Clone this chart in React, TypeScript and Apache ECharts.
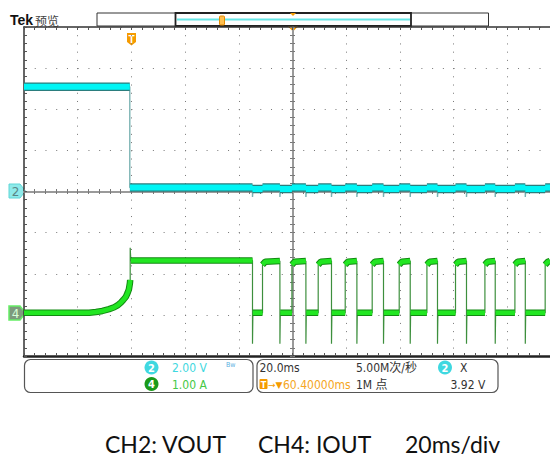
import React, { useEffect, useRef } from "react";
import * as echarts from "echarts";

// ---- Data (time in ms, 0 = screen centre) ----
// visible window: left edge of the graticule to the cropped right edge
const timeRangeMs = [-100, 95.9];
const ch2RangeV = [-8, 8];
const ch4RangeA = [-1, 7];

const ch2PreDropV = 5.1;
const ch2DropMs = -60.6;
const ch2OnV = 0.19;
const ch2OffV = 0.12;
const ch2EdgeSpikeV = -0.27;

const ch4RampMs = [-100, -75.7, -73.2, -70.8, -68.3, -66.4, -65.2, -63.9, -63.05, -62.05, -61.45, -60.93, -60.56, -60.45];
const ch4RampA = [0.05, 0.05, 0.07, 0.095, 0.14, 0.185, 0.23, 0.3, 0.36, 0.44, 0.53, 0.62, 0.77, 0.85];
const ch4SpikeA = 1.63;
const ch4HighStartMs = -60.2;
const ch4HighA = 1.32;
const ch4PulseHighA = [1.22, 1.29, 1.31];
const ch4LowA = 0.05;
const ch4FallSpikeA = -0.7;
const ch4FallMs = [-14.9, -4.69, 4.99, 14.52, 23.98, 33.89, 43.84, 54.0, 64.8, 75.5, 86.7];
const ch4RiseMs = [-11.17, -0.22, 9.57, 19.63, 29.68, 39.74, 50.06, 60.71, 71.66, 82.83, 94.1];

function buildCh2() {
  const thin: any[] = [];
  const band: any[] = [];
  thin.push([timeRangeMs[0], ch2PreDropV], [ch2DropMs, ch2PreDropV], [ch2DropMs, ch2OnV]);
  band.push([timeRangeMs[0], ch2PreDropV], [ch2DropMs, ch2PreDropV], [ch2DropMs, "-"], [ch2DropMs + 0.05, ch2OnV]);
  for (let i = 0; i < ch4FallMs.length; i++) {
    const tf = ch4FallMs[i];
    const tr = ch4RiseMs[i];
    thin.push([tf, ch2OnV], [tf, ch2EdgeSpikeV], [tf + 0.15, ch2OffV], [tr, ch2OffV], [tr, ch2OnV]);
    band.push([tf, ch2OnV], [tf, "-"], [tf, ch2OffV], [tr, ch2OffV], [tr, "-"], [tr, ch2OnV]);
  }
  thin.push([timeRangeMs[1], ch2OnV]);
  band.push([timeRangeMs[1], ch2OnV]);
  return { thin, band };
}

function buildCh4() {
  const thin: any[] = [];
  const band: any[] = [];
  for (let i = 0; i < ch4RampMs.length; i++) {
    thin.push([ch4RampMs[i], ch4RampA[i]]);
    band.push([ch4RampMs[i], ch4RampA[i]]);
  }
  const rampEnd = ch4RampMs[ch4RampMs.length - 1];
  thin.push([rampEnd, ch4SpikeA], [ch4HighStartMs, ch4HighA]);
  band.push([rampEnd, "-"], [ch4HighStartMs, ch4HighA]);
  let highEnd = ch4HighA;
  for (let i = 0; i < ch4FallMs.length; i++) {
    const tf = ch4FallMs[i];
    const tr = ch4RiseMs[i];
    thin.push([tf, highEnd], [tf, ch4FallSpikeA], [tf + 0.15, ch4LowA], [tr, ch4LowA], [tr, ch4PulseHighA[0]], [tr + 1, ch4PulseHighA[1]]);
    band.push([tf, highEnd], [tf, "-"], [tf + 0.15, ch4LowA], [tr, ch4LowA], [tr, "-"], [tr, ch4PulseHighA[0]], [tr + 1, ch4PulseHighA[1]]);
    highEnd = ch4PulseHighA[2];
  }
  thin.push([timeRangeMs[1], highEnd]);
  band.push([timeRangeMs[1], highEnd]);
  return { thin, band };
}

const NARROW = "'Liberation Sans Narrow', 'DejaVu Sans Condensed', 'Roboto', sans-serif";

function timeAxis(gridIndex: number, position: string, opts: any) {
  return {
    type: "value",
    gridIndex,
    position,
    min: timeRangeMs[0],
    max: timeRangeMs[1],
    interval: 20,
    axisLabel: { show: false },
    axisLine: { show: true, onZero: false, lineStyle: opts.line },
    axisTick: { show: true, inside: true, length: opts.tickLen ?? 3, lineStyle: { color: opts.tickColor ?? "#555", width: 1 } },
    minorTick: { show: true, splitNumber: 5, length: opts.tickLen ?? 3, lineStyle: { color: opts.tickColor ?? "#555", width: 1 } },
    splitLine: opts.split
      ? { show: true, showMaxLine: false, lineStyle: { color: "#777", width: 1, type: [1, 7.22] } }
      : { show: false },
  };
}

function voltAxis(gridIndex: number, position: string, opts: any) {
  return {
    type: "value",
    gridIndex,
    position,
    min: ch2RangeV[0],
    max: ch2RangeV[1],
    interval: 2,
    axisLabel: { show: false },
    axisLine: { show: true, onZero: false, lineStyle: opts.line },
    axisTick: { show: true, inside: true, length: opts.tickLen ?? 3, lineStyle: { color: opts.tickColor ?? "#555", width: 1 } },
    minorTick: { show: true, splitNumber: 5, length: opts.tickLen ?? 3, lineStyle: { color: opts.tickColor ?? "#555", width: 1 } },
    splitLine: opts.split
      ? { show: true, lineStyle: { color: "#777", width: 1, type: [1, 9.74] } }
      : { show: false },
  };
}

const hidden = (gridIndex: number) => ({ type: "value", gridIndex, show: false, min: 0, max: 1 });

export default function App() {
  const ref = useRef<HTMLDivElement>(null);
  useEffect(() => {
    if (!ref.current) return;
    const chart = echarts.init(ref.current, null, { renderer: "svg" });
    const ch2 = buildCh2();
    const ch4 = buildCh4();
    const L = 24, T = 27, W = 526, H = 329;
    const CX = 292.5; // graticule centre (t = 0)
    const centerLine = { color: "#9a9a9a", width: 2 };
    chart.setOption({
      animation: false,
      backgroundColor: "#ffffff",
      grid: [
        { left: L, top: T, width: W, height: H },
        { left: L, top: T, width: W, height: H / 2 },
        { left: L, top: T + H / 2, width: W, height: H / 2 },
        { left: L, top: T, width: CX - L, height: H },
        { left: CX, top: T, width: L + W - CX, height: H },
      ],
      xAxis: [
        timeAxis(0, "bottom", { line: { color: "#222", width: 2.5 }, split: true }),
        timeAxis(0, "top", { line: { color: "#333", width: 1.5 } }),
        timeAxis(1, "bottom", { line: centerLine, tickColor: "#777", tickLen: 2.5 }),
        timeAxis(2, "top", { line: centerLine, tickColor: "#777", tickLen: 2.5 }),
        hidden(3),
        hidden(4),
      ],
      yAxis: [
        voltAxis(0, "left", { line: { color: "#333", width: 1.5 }, split: true }),
        { type: "value", gridIndex: 0, show: false, min: ch4RangeA[0], max: ch4RangeA[1] },
        hidden(1),
        hidden(2),
        voltAxis(3, "right", { line: centerLine, tickColor: "#777", tickLen: 2.5 }),
        voltAxis(4, "left", { line: centerLine, tickColor: "#777", tickLen: 2.5 }),
      ],
      series: [
        { type: "line", name: "VOUT edges", xAxisIndex: 0, yAxisIndex: 0, data: ch2.thin, symbol: "none", silent: true, z: 2, lineStyle: { color: "#7ab3b3", width: 1.4 } },
        { type: "line", name: "VOUT outline", xAxisIndex: 0, yAxisIndex: 0, data: ch2.band, symbol: "none", silent: true, z: 3, lineStyle: { color: "#2b7d7d", width: 8.5, cap: "butt" } },
        { type: "line", name: "VOUT", xAxisIndex: 0, yAxisIndex: 0, data: ch2.band, symbol: "none", silent: true, z: 4, lineStyle: { color: "#00f5f5", width: 6, cap: "butt" } },
        { type: "line", name: "IOUT edges", xAxisIndex: 0, yAxisIndex: 1, data: ch4.thin, symbol: "none", silent: true, z: 2, lineStyle: { color: "#3d8f3d", width: 1.2 } },
        { type: "line", name: "IOUT outline", xAxisIndex: 0, yAxisIndex: 1, data: ch4.band, symbol: "none", silent: true, z: 3, lineStyle: { color: "#128a12", width: 6.5, cap: "butt" } },
        { type: "line", name: "IOUT", xAxisIndex: 0, yAxisIndex: 1, data: ch4.band, symbol: "none", silent: true, z: 4, lineStyle: { color: "#22e622", width: 4.5, cap: "butt" } },
      ],
      graphic: [
        // header
        { type: "text", x: 10, y: 20, style: { text: "Tek", fontSize: 14, fontWeight: "bold", fontFamily: "'Liberation Sans', Arial, sans-serif", fill: "#111", verticalAlign: "middle" } },
        { type: "text", x: 35, y: 20, style: { text: "预览", fontSize: 12, fontFamily: "'Noto Sans CJK SC', sans-serif", fill: "#444", verticalAlign: "middle" } },
        { type: "rect", shape: { x: 97, y: 13, width: 391.5, height: 13 }, style: { fill: "#fff", stroke: "#333", lineWidth: 1 } },
        { type: "rect", shape: { x: 175.5, y: 13, width: 235.5, height: 13 }, style: { fill: "none", stroke: "#222", lineWidth: 1.8 } },
        { type: "line", shape: { x1: 177, y1: 19.5, x2: 410, y2: 19.5 }, style: { stroke: "#66e6e6", lineWidth: 2 } },
        { type: "rect", shape: { x: 219.5, y: 16, width: 5, height: 9, r: 1 }, style: { fill: "#ffc050", stroke: "#e58a00", lineWidth: 1 } },
        { type: "polygon", shape: { points: [[290, 13], [296, 13], [293, 16]] }, style: { fill: "#f59b00" } },
        { type: "polygon", shape: { points: [[288, 26.5], [298, 26.5], [293, 31.5]] }, style: { fill: "#f59b00" } },
        // trigger marker
        { type: "polygon", shape: { points: [[127, 33], [136, 33], [136, 42], [131.5, 45.5], [127, 42]] }, style: { fill: "#f59b00" } },
        { type: "text", x: 131.5, y: 39, style: { text: "T", fontSize: 10, fontWeight: "bold", fontFamily: "'Liberation Sans', sans-serif", fill: "#fff", align: "center", verticalAlign: "middle" } },
        // channel ground markers
        { type: "polygon", shape: { points: [[9, 184], [20, 184], [25.5, 191], [20, 198], [9, 198]] }, style: { fill: "#8eeaea", stroke: "#5fd6d6", lineWidth: 1 } },
        { type: "text", x: 15.5, y: 191.5, style: { text: "2", fontSize: 12, fontFamily: "'DejaVu Sans', sans-serif", fill: "#5a8585", align: "center", verticalAlign: "middle" } },
        { type: "polygon", shape: { points: [[9, 306], [20, 306], [25.5, 313], [20, 320], [9, 320]] }, style: { fill: "#7d9a7d", stroke: "#66ee66", lineWidth: 1.5 } },
        { type: "text", x: 15.5, y: 313.5, style: { text: "4", fontSize: 12, fontFamily: "'DejaVu Sans', sans-serif", fill: "#d8ffd8", align: "center", verticalAlign: "middle" } },
        // info panels
        { type: "rect", shape: { x: 24.5, y: 359.5, width: 228.5, height: 33, r: 6 }, style: { fill: "none", stroke: "#555", lineWidth: 1.2 } },
        { type: "rect", shape: { x: 257, y: 359.5, width: 241, height: 33, r: 6 }, style: { fill: "none", stroke: "#555", lineWidth: 1.2 } },
        { type: "circle", shape: { cx: 151.5, cy: 367.5, r: 7 }, style: { fill: "#3fd8e0" } },
        { type: "text", x: 151.5, y: 368, style: { text: "2", fontSize: 11, fontWeight: "bold", fontFamily: NARROW, fill: "#fff", align: "center", verticalAlign: "middle" } },
        { type: "text", x: 172, y: 368, style: { text: "2.00 V", fontSize: 12, fontFamily: NARROW, fill: "#3fd8e0", verticalAlign: "middle" } },
        { type: "text", x: 226, y: 365, style: { text: "Bw", fontSize: 7, fontFamily: NARROW, fill: "#5ab0e0", verticalAlign: "middle" } },
        { type: "circle", shape: { cx: 151.5, cy: 384, r: 7 }, style: { fill: "#1a9a1a" } },
        { type: "text", x: 151.5, y: 384.5, style: { text: "4", fontSize: 11, fontWeight: "bold", fontFamily: NARROW, fill: "#fff", align: "center", verticalAlign: "middle" } },
        { type: "text", x: 172, y: 384.5, style: { text: "1.00 A", fontSize: 12, fontFamily: NARROW, fill: "#45c845", verticalAlign: "middle" } },
        { type: "text", x: 259.5, y: 368, style: { text: "20.0ms", fontSize: 12, fontFamily: NARROW, fill: "#333", verticalAlign: "middle" } },
        { type: "text", x: 356, y: 368, style: { text: "5.00M次/秒", fontSize: 12, fontFamily: NARROW + ", 'Noto Sans CJK SC'", fill: "#333", verticalAlign: "middle" } },
        { type: "circle", shape: { cx: 445, cy: 367.5, r: 7 }, style: { fill: "#3fd8e0" } },
        { type: "text", x: 445, y: 368, style: { text: "2", fontSize: 11, fontWeight: "bold", fontFamily: NARROW, fill: "#fff", align: "center", verticalAlign: "middle" } },
        { type: "text", x: 460, y: 368, style: { text: "X", fontSize: 12, fontFamily: NARROW, fill: "#333", verticalAlign: "middle" } },
        { type: "rect", shape: { x: 259.5, y: 379, width: 8, height: 10, r: 1 }, style: { fill: "#f59b00" } },
        { type: "text", x: 263.5, y: 384.5, style: { text: "T", fontSize: 9, fontWeight: "bold", fontFamily: NARROW, fill: "#fff", align: "center", verticalAlign: "middle" } },
        { type: "text", x: 268, y: 384.5, style: { text: "→▼", fontSize: 9, fontFamily: "'DejaVu Sans', sans-serif", fill: "#f59b00", verticalAlign: "middle" } },
        { type: "text", x: 283, y: 384.5, style: { text: "60.40000ms", fontSize: 12, fontFamily: NARROW, fill: "#f5a623", verticalAlign: "middle" } },
        { type: "text", x: 356, y: 384.5, style: { text: "1M 点", fontSize: 12, fontFamily: NARROW + ", 'Noto Sans CJK SC'", fill: "#333", verticalAlign: "middle" } },
        { type: "text", x: 450.5, y: 384.5, style: { text: "3.92 V", fontSize: 12, fontFamily: NARROW, fill: "#333", verticalAlign: "middle" } },
        // caption
        { type: "text", x: 105, y: 444, style: { text: "CH2: VOUT", fontSize: 23, fontFamily: "Lato, 'Open Sans', sans-serif", fill: "#111", verticalAlign: "middle" } },
        { type: "text", x: 258, y: 444, style: { text: "CH4: IOUT", fontSize: 23, fontFamily: "Lato, 'Open Sans', sans-serif", fill: "#111", verticalAlign: "middle" } },
        { type: "text", x: 405, y: 444, style: { text: "20ms/div", fontSize: 23, fontFamily: "Lato, 'Open Sans', sans-serif", fill: "#111", verticalAlign: "middle" } },
      ],
    });
    return () => chart.dispose();
  }, []);
  return (
    <div
      ref={ref}
      style={{ position: "fixed", left: 0, top: 0, width: 550, height: 461, background: "#fff" }}
    />
  );
}
